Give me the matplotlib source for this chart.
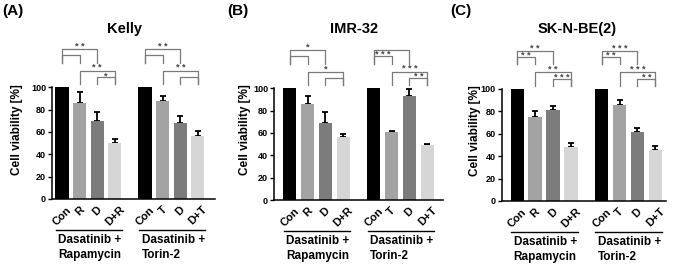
import matplotlib
matplotlib.use("Agg")
import matplotlib.pyplot as plt

# 字体
plt.rcParams['font.family'] = ['Liberation Sans', 'DejaVu Sans']
plt.rcParams['font.weight'] = 'bold'

# 数据
cats_rapa = ['Con', 'R', 'D', 'D+R']
cats_torin = ['Con', 'T', 'D', 'D+T']
group_names = ['Dasatinib +\nRapamycin', 'Dasatinib +\nTorin-2']
titles = ['Kelly', 'IMR-32', 'SK-N-BE(2)']
panel_tags = ['(A)', '(B)', '(C)']

kelly_mean = [100, 86, 70, 50, 100, 88, 68, 56]
kelly_err = [0, 10, 8, 4, 0, 4, 6.5, 5]
imr_mean = [100, 86, 69, 56, 100, 60.5, 93.5, 49]
imr_err = [0, 7.5, 9.5, 3, 0, 1.5, 5.5, 1]
sk_mean = [100, 75, 81, 48, 100, 86, 62, 45.5]
sk_err = [0, 5.5, 4, 4, 0, 4, 3.5, 4]

# 显著性标记: 每组顺序 (0,2), (0,1), (1,3), (2,3)
kelly_stars = ['**', '', '**', '*', '**', '', '**', '']
imr_stars = ['*', '', '*', '', '', '***', '***', '**']
sk_stars = ['**', '**', '**', '***', '***', '**', '***', '**']

means = [kelly_mean, imr_mean, sk_mean]
errs = [kelly_err, imr_err, sk_err]
stars = [kelly_stars, imr_stars, sk_stars]

xpos = [0, 1, 2, 3, 4.72, 5.72, 6.72, 7.72]
colors = ['#000000', '#a3a3a3', '#7c7c7c', '#d6d6d6'] * 2

W, H = 673, 266
# 像素布局 (左, 宽, y0像素, y100像素, xlim)
layout = [
    (52.3, 162.8, 199, 87.3, (-0.55, 8.70)),
    (274.3, 168.6, 200, 88.3, (-0.87, 8.60)),
    (501.7, 164.0, 201, 89.0, (-0.87, 8.30)),
]
title_xy = [(125, 29), (354, 29), (577, 29)]
tag_xy = [(2, 11), (227, 11), (450, 11)]
ylab_xy = [(17, 130), (245, 130), (475, 131)]

brackets = [(0, 2, 134, 122), (0, 1, 129, 122), (1, 3, 115, 103), (2, 3, 109, 103)]
star_dy = [0.3, -1.2, 0.3, -0.8]

fig = plt.figure(figsize=(W / 100, H / 100), dpi=100)

for k in range(3):
    left, width, y0, y100, xl = layout[k]
    ax = fig.add_axes([left / W, 1 - y0 / H, width / W, (y0 - y100) / H])
    ax.bar(xpos, means[k], width=0.75, color=colors, zorder=2)
    ax.errorbar(xpos, means[k], yerr=[[0] * 8, errs[k]], fmt='none',
                ecolor='black', elinewidth=1.3, capsize=2.5, capthick=1.3, zorder=1)
    ax.set_xlim(*xl)
    ax.set_ylim(0, 100)
    ax.set_yticks([0, 20, 40, 60, 80, 100])
    ax.tick_params(axis='y', labelsize=6.5, length=3, width=1, pad=1.5)
    for t in ax.get_yticklabels():
        t.set_fontweight('bold')
    ax.set_xticks(xpos)
    ax.set_xticklabels(cats_rapa + cats_torin, rotation=45, ha='center', va='top',
                       fontsize=8, fontweight='bold')
    ax.tick_params(axis='x', length=0, pad=4)
    for s in ['top', 'right']:
        ax.spines[s].set_visible(False)
    for s in ['left', 'bottom']:
        ax.spines[s].set_linewidth(1.1)

    # 显著性括号
    for g in range(2):
        base = g * 4
        for j, (a, b, h, leg) in enumerate(brackets):
            xa, xb = xpos[base + a], xpos[base + b]
            ax.plot([xa, xa, xb, xb], [leg, h, h, leg], color='#7a7a7a', lw=0.9,
                    clip_on=False)
            lab = stars[k][base + j]
            if lab:
                ax.text((xa + xb) / 2, h + star_dy[j], ' '.join(lab), ha='center',
                        va='baseline', fontsize=6.5, color='#444444', clip_on=False)
        # 分组线和文字
        x0, x3 = xpos[base], xpos[base + 3]
        ax.plot([x0 - 0.35, x3 + 0.4], [-27.5, -27.5], color='black', lw=1.0, clip_on=False)
        ax.text(x0 - 0.2, -31.5, group_names[g], ha='left', va='top', fontsize=8.5,
                fontweight='bold', linespacing=1.3, clip_on=False)

    fig.text(title_xy[k][0] / W, 1 - title_xy[k][1] / H, titles[k], ha='center',
             va='center', fontsize=10.5, fontweight='bold')
    fig.text(tag_xy[k][0] / W, 1 - tag_xy[k][1] / H, panel_tags[k], ha='left',
             va='center', fontsize=11, fontweight='bold')
    fig.text(ylab_xy[k][0] / W, 1 - ylab_xy[k][1] / H, 'Cell viability [%]',
             ha='center', va='center', rotation=90, fontsize=8.5, fontweight='bold')

fig.savefig('out.png', dpi=100)
